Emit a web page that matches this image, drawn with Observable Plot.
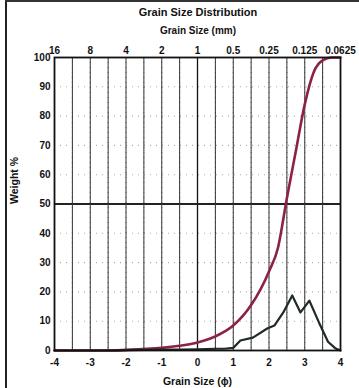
<!DOCTYPE html>
<html><head><meta charset="utf-8">
<script src="https://cdn.jsdelivr.net/npm/d3@7"></script>
<script src="https://cdn.jsdelivr.net/npm/@observablehq/plot@0.6"></script>
<style>
body{margin:0;background:#fff;font-family:"Liberation Sans",Arial,sans-serif;}
#wrap{position:relative;width:359px;height:388px;overflow:hidden;}
#t1{position:absolute;left:0;width:396px;top:6px;text-align:center;font-weight:bold;font-size:11px;color:#111;}
#t2{position:absolute;left:0;width:396px;top:25px;text-align:center;font-weight:bold;font-size:10px;color:#111;}
#chart{position:absolute;left:0;top:40px;}
#bl{position:absolute;left:5px;top:0;width:2px;height:388px;background:#222;}
#bt{position:absolute;left:5px;top:0;width:354px;height:2px;background:#333;}
</style></head>
<body><div id="wrap"><div id="bl"></div><div id="bt"></div>
<div id="t1">Grain Size Distribution</div>
<div id="t2">Grain Size (mm)</div>
<div id="chart"></div></div>
<script>
const phiTicks = [-4,-3,-2,-1,0,1,2,3,4];
const mmLabels = ["16","8","4","2","1","0.5","0.25","0.125","0.0625"];
const yTicks = [0,10,20,30,40,50,60,70,80,90,100];
const gridPhi = [-3.5,-3,-2.5,-2,-1.5,-1,-0.5,0.5,1,1.5,2,2.5,3,3.5];
const gridY = [10,20,30,40,60,70,80,90];

const cumPhi = [-4,-3,-2.5,-2,-1.5,-1,-0.5,0,0.5,1,1.5,2,2.25,2.5,2.75,3,3.25,3.5,3.75,4];
const cumPct = [0,0,0,0.2,0.5,0.9,1.6,2.7,4.8,8.5,15.5,27,35,52,68,84,95,99,100,100];

const freqPhi = [-4,-3.5,-3,-2.5,-2,-1.5,-1,-0.5,0,0.5,0.75,1,1.2,1.55,1.95,2.15,2.4,2.65,2.88,3.13,3.4,3.65,3.85,4];
const freqPct = [0,0,0,0,0.1,0.2,0.3,0.3,0.4,0.6,0.6,0.9,3.4,4.4,7.5,8.5,13,18.8,13,17,9.5,3,0.8,0];

const cum = cumPhi.map((p,i)=>({phi:p, v:cumPct[i]}));
const freq = freqPhi.map((p,i)=>({phi:p, v:freqPct[i]}));

const chart = Plot.plot({
  width: 359, height: 348,
  marginLeft: 54, marginRight: 19, marginTop: 17, marginBottom: 38,
  style: {fontFamily: '"Liberation Sans",Arial,sans-serif', fontWeight: "bold", fontSize: "10px", color: "#111"},
  x: {domain: [-4,4]},
  y: {domain: [0,100]},
  marks: [
    Plot.ruleX(gridPhi, {stroke: "#9a9a9a", strokeDasharray: "1,4", strokeWidth: 1.2}),
    Plot.ruleY(gridY, {stroke: "#aaaaaa", strokeDasharray: "1,5", strokeWidth: 1.1}),
    Plot.ruleX([0], {stroke: "#111", strokeWidth: 1.3}),
    Plot.ruleY([50], {stroke: "#222", strokeWidth: 1.8}),
    Plot.tickX(gridPhi, {y1: 0, y2: 1.5, stroke: "#333", strokeWidth: 1}),
    Plot.line(cum, {x: "phi", y: "v", stroke: "#8c2343", strokeWidth: 2.6, curve: "monotone-x"}),
    Plot.line(freq, {x: "phi", y: "v", stroke: "#1f2b24", strokeWidth: 2.2}),
    Plot.frame({stroke: "#111", strokeWidth: 1.8}),
    Plot.axisY({ticks: yTicks, tickSize: 0, tickPadding: 4, label: null}),
    Plot.axisX({ticks: phiTicks, tickSize: 0, tickPadding: 8, tickFormat: d => d === 0 ? "0" : d < 0 ? "-" + Math.abs(d) : String(d), label: null}),
    Plot.axisX({anchor: "top", ticks: phiTicks, tickSize: 0, tickPadding: 4, tickFormat: d => mmLabels[phiTicks.indexOf(d)], label: null}),
    Plot.text(["Grain Size (ϕ)"], {frameAnchor: "bottom", dy: 34, fontSize: 10.5, fontWeight: "bold"}),
    Plot.text(["Weight %"], {frameAnchor: "left", dx: -40, rotate: -90, fontSize: 10.5, fontWeight: "bold"})
  ]
});
document.getElementById("chart").appendChild(chart);
</script></body></html>
